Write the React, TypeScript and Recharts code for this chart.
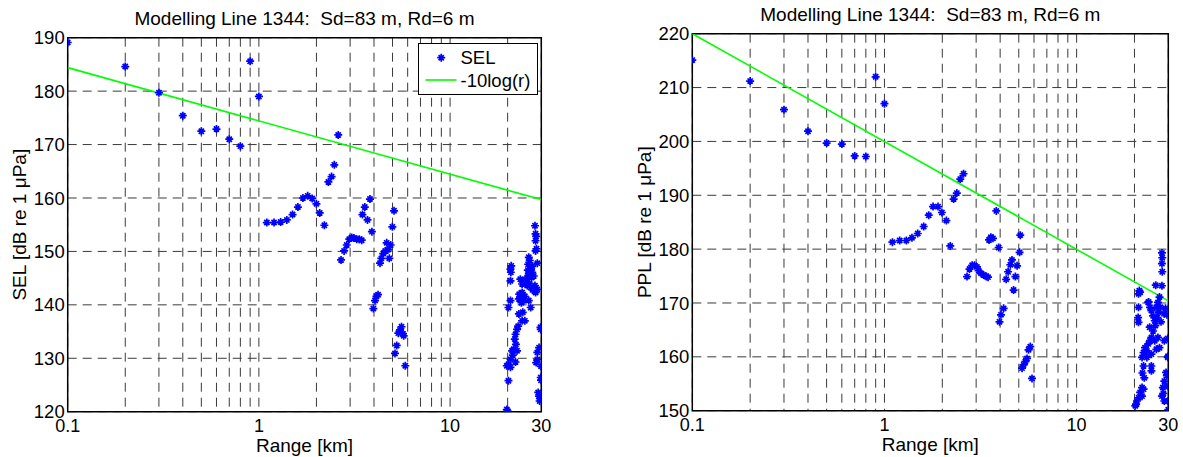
import React from 'react';
import { ComposedChart, Scatter, XAxis, YAxis, CartesianGrid, ReferenceArea } from 'recharts';

const FONT = '"Liberation Sans", Arial, Helvetica, sans-serif';

// ---- axes ----
const rangeTicks = [0.1, 0.2, 0.3, 0.4, 0.5, 0.6, 0.7, 0.8, 0.9, 1, 2, 3, 4, 5, 6, 7, 8, 9, 10, 20, 30];
const rangeLabelTicks = [0.1, 1, 10, 30];
const selTicks = [120, 130, 140, 150, 160, 170, 180, 190];
const pplTicks = [150, 160, 170, 180, 190, 200, 210, 220];

const titleText = 'Modelling Line 1344:\u00a0 Sd=83 m, Rd=6 m';
const xLabelText = 'Range [km]';
const selLabelText = 'SEL [dB re 1 \u03bcPa]';
const pplLabelText = 'PPL [dB re 1 \u03bcPa]';

// ---- SEL (left) ----
const selNearRange = [0.1, 0.2, 0.3, 0.4, 0.5, 0.6, 0.7, 0.8, 0.9, 1.0,
  1.1, 1.2, 1.3, 1.4, 1.5, 1.6, 1.7, 1.8, 1.9, 2.0, 2.08, 2.2,
  2.31, 2.4, 2.48, 2.6,
  2.69, 2.79, 2.88, 2.97, 3.06, 3.14, 3.25, 3.35, 3.45,
  3.48, 3.58, 3.7, 3.81, 3.9,
  3.97, 4.05, 4.12, 4.2,
  4.3, 4.37, 4.47, 4.58, 4.66, 4.73, 4.81, 4.89, 4.99, 5.09,
  5.15, 5.26, 5.36, 5.47, 5.57, 5.67, 5.72, 5.83];
const selNearLevel = [189.1, 184.6, 179.7, 175.4, 172.5, 172.9, 171.0, 169.7, 185.6, 179.0,
  155.4, 155.4, 155.5, 155.9, 156.9, 158.3, 160.0, 160.4, 159.9, 158.9, 157.2, 154.9,
  163.0, 164.0, 166.2, 171.8,
  148.4, 150.1, 151.2, 152.3, 152.6, 152.5, 152.3, 152.3, 152.1,
  156.9, 158.3, 155.9, 159.8, 153.7,
  139.3, 140.8, 141.6, 141.9,
  147.8, 148.7, 149.6, 150.1, 151.6, 150.3, 148.7, 151.2, 154.6, 157.6,
  130.9, 132.4, 134.7, 135.3, 135.9, 134.6, 134.2, 128.6];

const selFarRange = [27.8, 28.0, 28.2, 28.0, 28.0, 28.6,
  25.8, 26.1, 25.6, 26.4, 26.9, 25.8, 25.3, 26.7, 27.4, 24.8, 24.3, 23.8, 25.3, 26.4, 27.8, 28.6, 28.0, 23.8, 23.3, 22.9, 24.3, 23.6, 23.0,
  20.7, 20.8, 20.7, 20.7, 20.2, 26.4, 25.8,
  22.9, 23.8, 24.6, 22.4, 22.0, 21.8, 22.1, 21.5, 21.1, 22.4, 20.7, 20.2, 19.8, 20.7, 20.2,
  29.8, 29.2, 28.6, 28.6, 28.2, 29.8, 28.9, 29.2, 29.4, 19.8, 20.0,
  20.9, 25.0, 26.0, 27.0, 24.6, 25.5, 24.0, 29.9, 29.9, 29.7, 29.5, 21.3, 22.0, 22.7, 26.9, 23.3, 28.3];
const selFarLevel = [154.8, 153.3, 152.8, 152.0, 150.1, 147.8,
  148.9, 148.3, 147.6, 146.7, 146.1, 145.8, 145.1, 145.1, 145.4, 144.5, 144.2, 143.9, 143.6, 143.3, 143.6, 142.9, 142.3, 142.3, 141.4, 141.1, 140.8, 140.4, 142.0,
  146.7, 146.1, 144.5, 140.8, 139.5, 139.5, 140.8,
  138.3, 137.0, 137.0, 135.4, 134.5, 133.6, 132.6, 131.7, 131.4, 131.4, 129.8, 128.9, 128.6, 128.3, 125.8,
  135.4, 132.0, 131.1, 129.8, 129.2, 126.4, 123.6, 122.9, 122.0, 120.4, 120.1,
  147.3, 144.8, 144.0, 142.8, 141.6, 146.5, 138.6, 128.5, 125.9, 135.8, 122.5, 130.6, 129.3, 136.0, 147.2, 144.8, 150.5];

const selRefRange = [0.1, 30];
const selRefLevel = [184.4, 159.7];

// ---- PPL (right) ----
const pplNearRange = [0.1, 0.2, 0.3, 0.4, 0.5, 0.6, 0.7, 0.8, 0.9, 1.0,
  1.1, 1.2, 1.3, 1.39, 1.49, 1.6, 1.7, 1.79, 1.9, 1.99, 2.1, 2.2,
  2.29, 2.38, 2.48, 2.58,
  2.69, 2.77, 2.86, 2.94, 3.03, 3.09, 3.18, 3.28, 3.39, 3.46,
  3.5, 3.58, 3.67, 3.82, 3.93,
  3.97, 4.04, 4.17,
  4.3, 4.4, 4.52, 4.61, 4.7, 4.8, 4.9, 5.05, 5.09,
  5.2, 5.3, 5.41, 5.52, 5.62, 5.74, 5.86];
const pplNearLevel = [215.1, 211.2, 205.9, 201.9, 199.7, 199.5, 197.3, 197.2, 212.0, 207.0,
  181.3, 181.6, 181.6, 182.1, 182.9, 184.2, 186.3, 187.9, 187.9, 186.8, 185.3, 180.6,
  189.3, 190.4, 193.0, 194.0,
  174.9, 176.3, 177.0, 177.0, 176.7, 176.0, 175.5, 175.2, 174.9, 174.8,
  181.7, 182.2, 182.0, 187.1, 180.3,
  166.5, 167.8, 169.0,
  174.4, 175.8, 177.1, 178.0, 172.4, 174.9, 176.9, 179.4, 182.6,
  157.9, 158.5, 159.1, 159.7, 161.3, 161.9, 156.0];

const pplFarRange = [27.8, 27.9, 27.8, 27.9, 27.8, 25.8,
  21.2, 21.0, 21.4, 21.0, 20.9, 21.0,
  23.6, 24.1, 24.5, 25.0, 25.5, 26.0, 26.5, 27.0, 27.3, 26.7, 26.3, 25.7, 25.0, 24.5, 24.1, 23.6, 23.2, 22.7, 22.3, 21.9, 23.2, 24.5, 26.0, 27.0, 26.5, 25.5,
  22.3, 22.5, 24.5, 24.5, 21.9, 21.4, 21.0, 20.6, 20.2, 21.9, 22.3, 28.6, 29.8, 29.2, 28.6, 28.1, 27.8, 28.6, 29.8, 30.0,
  29.5, 29.8, 29.9, 29.5, 29.9, 28.3, 23.7, 28.5, 29.0, 27.5, 24.0, 22.0, 20.4];
const pplFarLevel = [179.3, 178.4, 177.3, 175.8, 173.2, 173.3,
  172.3, 171.7, 172.0, 169.2, 167.3, 166.4,
  170.1, 169.2, 168.6, 167.6, 166.7, 169.2, 170.1, 171.1, 169.2, 168.3, 167.3, 165.8, 164.8, 163.6, 163.0, 162.4, 161.1, 161.7, 160.8, 159.9, 159.9, 160.5, 161.4, 161.7, 163.6, 163.0,
  158.3, 156.1, 158.3, 157.4, 154.3, 153.4, 152.4, 151.8, 150.9, 152.7, 154.0, 163.0, 159.9, 157.1, 155.5, 154.3, 152.7, 151.8, 151.8, 150.2,
  167.8, 163.4, 160.1, 156.5, 154.5, 153.2, 170.2, 168.0, 169.0, 166.5, 165.5, 157.0, 151.2];

const pplRefRange = [0.1, 30];
const pplRefLevel = [220.0, 170.4];

const zip = (xs: number[], ys: number[]) => xs.map((x, i) => ({ x, y: ys[i] }));

const StarMarker = (props: any) => {
  const { cx, cy } = props;
  if (cx == null || cy == null || isNaN(cx) || isNaN(cy)) return <g />;
  const a = 4;
  const b = 2.6;
  return (
    <path
      d={`M${cx - a},${cy}L${cx + a},${cy}M${cx},${cy - a}L${cx},${cy + a}M${cx - b},${cy - b}L${cx + b},${cy + b}M${cx - b},${cy + b}L${cx + b},${cy - b}`}
      stroke="#0000ff"
      strokeWidth={1.7}
      fill="none"
    />
  );
};

const NoMarker = () => <g />;

const FrameText = (props: any) => {
  const vb = props.viewBox || {};
  const { x = 0, y = 0, width = 0, height = 0 } = vb;
  return (
    <g fontFamily={FONT} fill="#000">
      <text x={x + width / 2} y={y - 13} textAnchor="middle" fontSize={19}>{props.title}</text>
      <text x={x + width / 2} y={y + height + 40} textAnchor="middle" fontSize={19}>{props.xLabel}</text>
      <text
        transform={`translate(${x - 47.5},${y + height / 2}) rotate(-90)`}
        textAnchor="middle"
        dy="0.3em"
        fontSize={19}
      >
        {props.yLabel}
      </text>
    </g>
  );
};

type PanelProps = {
  width: number;
  margin: { top: number; right: number; bottom: number; left: number };
  points: { x: number; y: number }[];
  refLine: { x: number; y: number }[];
  yDomain: [number, number];
  yTicks: number[];
  yLabel: string;
};

const Panel = ({ width, margin, points, refLine, yDomain, yTicks, yLabel }: PanelProps) => (
  <ComposedChart width={width} height={457} margin={margin} style={{ fontFamily: FONT }}>
    <CartesianGrid stroke="#3a3a3a" strokeDasharray="9 6" strokeWidth={1} />
    <XAxis
      dataKey="x"
      type="number"
      scale="log"
      domain={[0.1, 30]}
      allowDataOverflow
      ticks={rangeTicks}
      interval={0}
      height={30}
      tickSize={0}
      tickMargin={7.5}
      tickLine={false}
      axisLine={false}
      tick={{ fill: '#000', fontSize: 18, fontFamily: FONT }}
      tickFormatter={(v: number) => (rangeLabelTicks.some((t) => Math.abs(t - v) < 1e-9) ? String(v) : '')}
    />
    <YAxis
      dataKey="y"
      type="number"
      domain={yDomain}
      allowDataOverflow
      ticks={yTicks}
      interval={0}
      width={50}
      tickSize={0}
      tickMargin={3}
      tickLine={false}
      axisLine={false}
      tick={{ fill: '#000', fontSize: 18.5, fontFamily: FONT }}
    />
    <Scatter data={refLine} line={{ stroke: '#00ff00', strokeWidth: 1.6 }} shape={NoMarker} isAnimationActive={false} />
    <Scatter data={points} shape={StarMarker} isAnimationActive={false} />
    <ReferenceArea
      x1={0.1}
      x2={30}
      y1={yDomain[0]}
      y2={yDomain[1]}
      fill="none"
      fillOpacity={0}
      stroke="#000"
      strokeWidth={1.5}
      ifOverflow="visible"
      label={<FrameText title={titleText} xLabel={xLabelText} yLabel={yLabel} />}
    />
  </ComposedChart>
);

const Legend = () => (
  <svg
    width={120}
    height={52}
    style={{ position: 'absolute', left: 417.5, top: 43 }}
    fontFamily={FONT}
  >
    <rect x={0.5} y={0.5} width={119} height={51} fill="#fff" stroke="#000" strokeWidth={1} />
    <StarMarker cx={23.2} cy={14.7} />
    <text x={42.5} y={21.3} fontSize={18.5} fill="#000">SEL</text>
    <line x1={7.5} x2={38.5} y1={37} y2={37} stroke="#00ff00" strokeWidth={1.6} />
    <text x={42.5} y={43.5} fontSize={18.5} fill="#000">-10log(r)</text>
  </svg>
);

export default function App() {
  const selPoints = [...zip(selNearRange, selNearLevel), ...zip(selFarRange, selFarLevel)];
  const pplPoints = [...zip(pplNearRange, pplNearLevel), ...zip(pplFarRange, pplFarLevel)];
  return (
    <div style={{ position: 'absolute', left: 0, top: 0, width: 1183, height: 457, background: '#fff', overflow: 'hidden' }}>
      <div style={{ position: 'absolute', left: 0, top: 0 }}>
        <Panel
          width={600}
          margin={{ top: 37.7, right: 58.7, bottom: 15.3, left: 17.7 }}
          points={selPoints}
          refLine={zip(selRefRange, selRefLevel)}
          yDomain={[120, 190]}
          yTicks={selTicks}
          yLabel={selLabelText}
        />
      </div>
      <div style={{ position: 'absolute', left: 600, top: 0 }}>
        <Panel
          width={583}
          margin={{ top: 33.7, right: 14.7, bottom: 16.3, left: 42.3 }}
          points={pplPoints}
          refLine={zip(pplRefRange, pplRefLevel)}
          yDomain={[150, 220]}
          yTicks={pplTicks}
          yLabel={pplLabelText}
        />
      </div>
      <Legend />
    </div>
  );
}
